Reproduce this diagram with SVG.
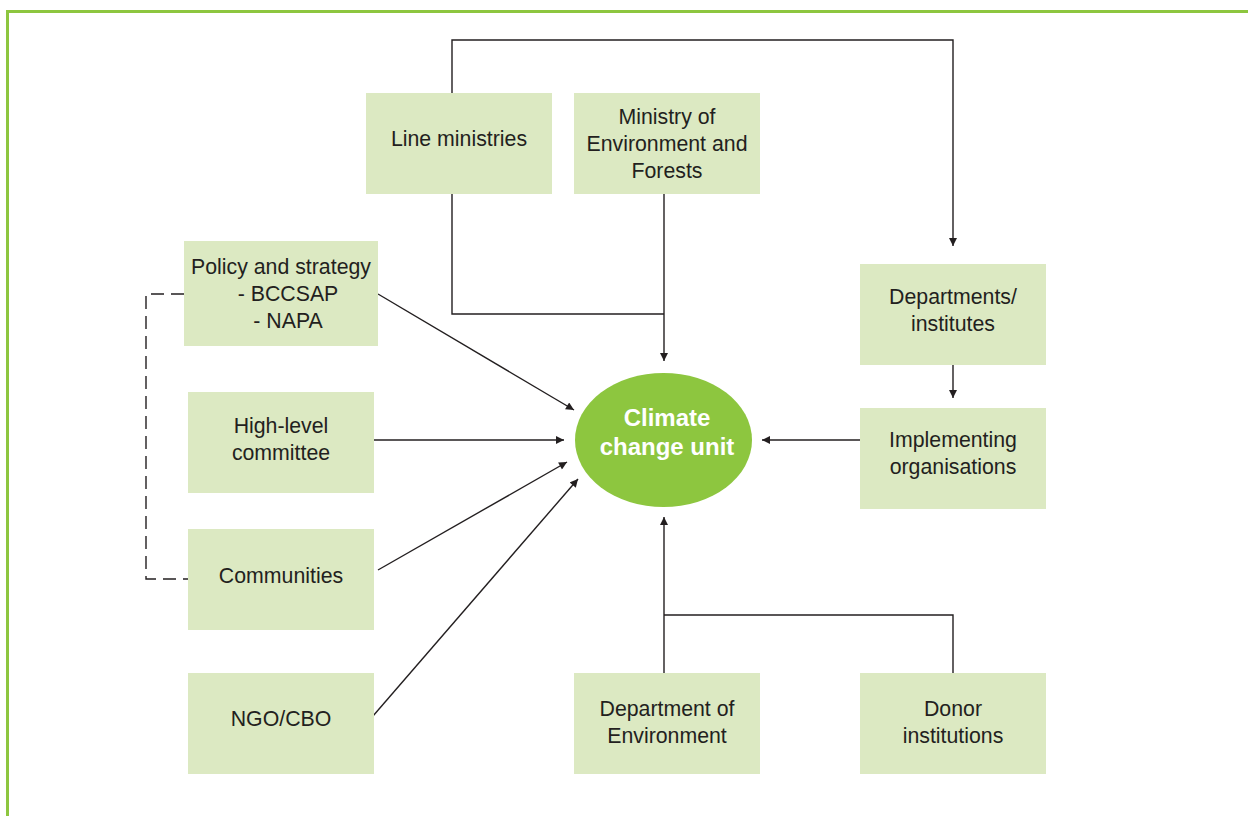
<svg xmlns="http://www.w3.org/2000/svg" width="1248" height="816" viewBox="0 0 1248 816">
<defs>
<style>
.box{fill:#dce9c2}
.t{font-family:"Liberation Sans",Arial,sans-serif;font-size:21.3px;fill:#231f20;text-anchor:middle}
.w{font-family:"Liberation Sans",Arial,sans-serif;font-size:24px;font-weight:bold;fill:#fff;text-anchor:middle}
.c{stroke:#231f20;stroke-width:1.4;fill:none}
.d{stroke:#231f20;stroke-width:1.4;fill:none;stroke-dasharray:13 7}
</style>
<marker id="ah" viewBox="0 0 10 10" refX="10" refY="5" markerWidth="9" markerHeight="8" markerUnits="userSpaceOnUse" orient="auto">
<path d="M0,0 L10,5 L0,10 z" fill="#231f20"/>
</marker>
</defs>
<rect width="1248" height="816" fill="#fff"/>
<path d="M7.5,816 V11.5 H1248" fill="none" stroke="#8dc63f" stroke-width="3"/>
<g id="connectors">
<path class="c" d="M452,93 V40 H953 V246" marker-end="url(#ah)"/>
<path class="c" d="M452,194 V314 H664"/>
<path class="c" d="M664,194 V361" marker-end="url(#ah)"/>
<path class="c" d="M953,365 V398" marker-end="url(#ah)"/>
<path class="c" d="M860,440 H762" marker-end="url(#ah)"/>
<path class="c" d="M378,294 L574,410" marker-end="url(#ah)"/>
<path class="c" d="M374,440 H564" marker-end="url(#ah)"/>
<path class="c" d="M378,570 L567,462" marker-end="url(#ah)"/>
<path class="c" d="M373,716 L578,479" marker-end="url(#ah)"/>
<path class="c" d="M664,673 V517" marker-end="url(#ah)"/>
<path class="c" d="M664,615 H953 V673"/>
<path class="d" d="M184,294 H146 V579 H188"/>
</g>
<g id="line-ministries"><rect class="box" x="366" y="93" width="186" height="101"/><text class="t" x="459" y="146">Line ministries</text></g>
<g id="moef"><rect class="box" x="574" y="93" width="186" height="101"/><text class="t" x="667" y="124">Ministry of</text><text class="t" x="667" y="151">Environment and</text><text class="t" x="667" y="178">Forests</text></g>
<g id="policy"><rect class="box" x="184" y="241" width="194" height="105"/><text class="t" x="281" y="274">Policy and strategy</text><text class="t" x="288" y="301">- BCCSAP</text><text class="t" x="288" y="328">- NAPA</text></g>
<g id="high-level"><rect class="box" x="188" y="392" width="186" height="101"/><text class="t" x="281" y="433">High-level</text><text class="t" x="281" y="460">committee</text></g>
<g id="communities"><rect class="box" x="188" y="529" width="186" height="101"/><text class="t" x="281" y="583">Communities</text></g>
<g id="ngo"><rect class="box" x="188" y="673" width="186" height="101"/><text class="t" x="281" y="726">NGO/CBO</text></g>
<g id="departments"><rect class="box" x="860" y="264" width="186" height="101"/><text class="t" x="953" y="304">Departments/</text><text class="t" x="953" y="331">institutes</text></g>
<g id="implementing"><rect class="box" x="860" y="408" width="186" height="101"/><text class="t" x="953" y="447">Implementing</text><text class="t" x="953" y="474">organisations</text></g>
<g id="doe"><rect class="box" x="574" y="673" width="186" height="101"/><text class="t" x="667" y="716">Department of</text><text class="t" x="667" y="743">Environment</text></g>
<g id="donor"><rect class="box" x="860" y="673" width="186" height="101"/><text class="t" x="953" y="716">Donor</text><text class="t" x="953" y="743">institutions</text></g>
<g id="ccu"><ellipse cx="663.5" cy="440" rx="88.5" ry="67" fill="#8dc63f"/><text class="w" x="667" y="426">Climate</text><text class="w" x="667" y="455">change unit</text></g>
</svg>
